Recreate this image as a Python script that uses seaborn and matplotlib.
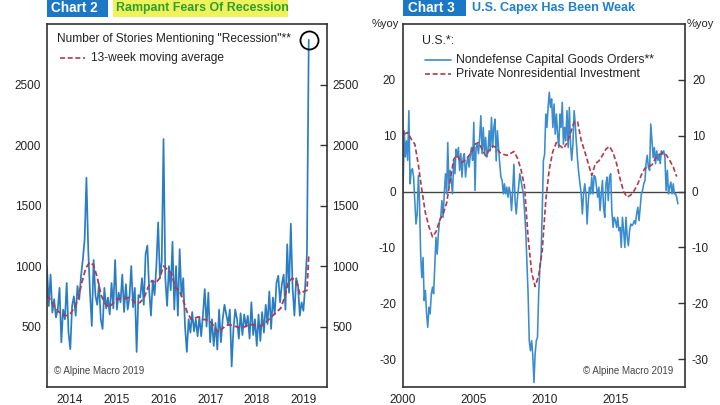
import matplotlib
matplotlib.use('Agg')
import matplotlib.pyplot as plt
import matplotlib.dates as mdates
from matplotlib.patches import Rectangle
import seaborn as sns
import numpy as np
import pandas as pd

sns.set_theme(style='white')
plt.rcParams['font.family'] = ['Liberation Sans', 'DejaVu Sans']
plt.rcParams['axes.unicode_minus'] = False

blue = '#2b7dc2'
blue2 = '#3a8cce'
red = '#b03a4c'
spinecol = '#333333'

# ---- Chart 2: weekly stories (sampled every two weeks) ----
stories = [
    # 2014
    1000, 670, 930, 615, 725, 575, 640, 820, 370, 640, 560, 860, 450, 313, 670, 750, 590, 835, 725, 920,
    1055, 1220, 1730, 1140, 780, 505,
    # 2015
    1050, 760, 680, 850, 560, 480, 820, 650, 740, 600, 860, 650, 1050, 640, 780, 700, 930, 620, 850, 640,
    740, 1000, 660, 820, 290, 760,
    # 2016
    740, 900, 680, 1100, 1170, 800, 590, 880, 760, 1000, 1360, 900, 1040, 2050, 900, 670, 1000, 800, 1200, 640,
    1000, 590, 1140, 750, 900, 500,
    # 2017
    290, 560, 450, 620, 460, 560, 420, 580, 420, 600, 810, 500, 780, 370, 560, 340, 530, 310, 640, 370,
    560, 680, 600, 520, 640, 170,
    # 2018
    480, 640, 560, 400, 610, 430, 600, 500, 590, 400, 700, 430, 560, 340, 600, 380, 620, 450, 680, 520,
    790, 480, 740, 600, 860, 920,
    # 2019
    700, 850, 930, 640, 1180, 780, 1350, 820, 590, 900, 840, 590, 700, 630, 830, 1110, 2870]
story_dates = pd.date_range('2014-01-03', periods=len(stories), freq='14D')

# 13-week moving average, read monthly, plus the last two readings
ma_monthly = [755, 720, 670, 625, 600, 590, 600, 650, 720, 860, 980, 1030,
              1010, 900, 760, 690, 660, 690, 725, 730, 730, 740, 720, 690,
              700, 740, 820, 880, 860, 900, 1000, 970, 940, 820, 800, 720,
              620, 560, 570, 580, 560, 555, 540, 500, 450, 480, 510, 515,
              505, 495, 490, 500, 515, 515, 510, 505, 525, 560, 590, 620,
              650, 740, 860, 900, 880, 770, 790]
ma_last = [800, 1090]
ma_dates = list(pd.date_range('2014-01-01', periods=len(ma_monthly), freq='MS')) + list(story_dates[-2:])
ma_vals = ma_monthly + ma_last

# ---- Chart 3: US capex, %yoy ----
orders = [
    0, 10.9, 6.2, 9.1, 5.6, 14.5, 1.4, 3.8, 4.1, 2.6, -1.5, -5.8,            # 2000
    -4, 2.9, -1.6, -11.2, -15.4, -11.8, -19.5, -17.7, -21.9, -24.3, -20.7, -21.9,
    -18.3, -17.1, -18.3, -13, -8.2, -11.2, -7.6, -5.2, -4.6, -1.6, -4.6, -0.4,
    3.2, -0.4, 8.8, 0.8, 3.8, 2.0, -0.4, 5.6, 3.2, 7.6, 6.2, 7.9,
    3.8, 6.8, 2.6, 5.9, 6.8, 2.6, 5.0, 6.2, 4.4, 6.5, 7.9, 5.6,
    12.4, 0.2, 7.9, 8.5, 6.8, 9.7, 13.6, 6.8, 11.5, 6.8, 9.7, 6.2,           # 2005
    7.3, 10.9, 7.3, 13.3, 7.9, 11.5, 13.0, 5.5, 10.9, 7.9, 4.9, 2.6,
    2.0, -0.4, 1.4, -0.4, 0.8, -1.0, 0.8, -0.4, -3.4, 0.2, 4.9, -1.6,
    -4, -1, 0.8, 3.2, 2.0, 0.8, -0.4, -3.4, -7, -12.4, -18.3, -26.7,
    -28.5, -26.7, -29.1, -34.2, -29.1, -26.7, -26.1, -18.3, -13.6, -11.8, -3.4, 5.6,
    6.7, 13.9, 11.5, 15.1, 17.8, 15.1, 16.6, 11.5, 15.7, 10.3, 13.9, 10.3,   # 2010
    7.9, 13.9, 11.5, 16.0, 8.5, 11.5, 9.1, 14.5, 7.9, 15.1, 8.5, 5.6,
    8.5, 14.5, 12.1, 8.5, 5.6, 3.2, 1.4, -0.4, -4, -0.4, 1.4, -0.4,
    -5.8, -1.6, 0.8, -0.4, 2.6, -0.4, 2.9, 2.6, 0.8, -1.0, 0.8, -3.4,
    -0.4, 2.0, -2.8, -4.6, 1.4, 2.6, -1.6, 2.6, 3.2, -3.4, -6.4, -4.6,
    -5.2, -6.4, -4.6, -7, -6.4, -10, -4.6, -7, -10, -4.6, -8.2, -9.7,        # 2015
    -7, -5.8, -6.1, -5.8, -5.2, -5.8, -4, -2.8, -5.2, -2.8, -0.4, 0.2,
    1.4, 2, 5, 6.5, 4.4, 3.8, 12.1, 9.1, 6.1, 7.9, 5, 7.3,
    5.6, 6.7, 5, 7.3, 6.7, 7.3, 6.1, 0.2, 3.8, -0.4, 0.8, 1.7,
    -0.4, 1.4, -0.4, -0.4, -1.0, -2.2]
order_dates = pd.date_range('2000-01-01', periods=len(orders), freq='MS')

invest = [10.3, 10.6, 9.4, 8.5, 4.8, 0.3, -3.8, -6.3, -8.1, -7.2, -5.2, -4.0,
          -2.0, 2.0, 5.8, 6.5, 5.2, 5.5, 6.2, 7.0, 8.5, 8.8, 7.6, 6.4,
          7.4, 8.2, 7.9, 7.0, 6.7, 6.5, 6.8, 7.2, 6.0, 4.0, 0.9, -8.2,
          -14.5, -17.0, -15.0, -10.5, -1.5, 4.0, 7.2, 8.8, 8.2, 7.7, 8.7, 10.5,
          12.5, 12.5, 9.2, 7.2, 5.0, 2.9, 5.0, 5.5, 6.5, 7.6, 8.1, 7.0,
          5.0, 2.3, 0.0, -1.0, -0.6, 0.2, 1.4, 3.0, 4.2, 4.4, 4.8, 6.0,
          6.6, 7.0, 6.6, 5.6, 4.4, 2.7]
invest_dates = pd.date_range('2000-02-01', periods=len(invest), freq='3MS')

fig = plt.figure(figsize=(7.2, 4.05), dpi=100)
ax1 = fig.add_axes([0.0649, 0.0444, 0.389, 0.896])
ax2 = fig.add_axes([0.5597, 0.0444, 0.3917, 0.896])

# ---------- left panel ----------
sns.lineplot(x=story_dates, y=stories, ax=ax1, color=blue, linewidth=1.25)
sns.lineplot(x=ma_dates, y=ma_vals, ax=ax1, color=red, linewidth=1.3, linestyle=(0, (3, 1.6)))
ax1.plot(story_dates[-1], stories[-1], marker='o', ms=13, mfc='none', mec='black', mew=1.3)

ax1.set_ylim(0, 3000)
ax1.set_yticks([500, 1000, 1500, 2000, 2500])
ax1.set_xlim(pd.Timestamp('2014-01-01'), pd.Timestamp('2019-12-28'))
ax1.xaxis.set_major_locator(mdates.YearLocator())
ax1.xaxis.set_major_formatter(plt.NullFormatter())
ax1.xaxis.set_minor_locator(mdates.MonthLocator(bymonth=7, bymonthday=1))
ax1.xaxis.set_minor_formatter(mdates.DateFormatter('%Y'))
ax1.tick_params(axis='x', which='minor', length=0, pad=5, labelsize=8.5, labelcolor='#222222')
ax1.tick_params(axis='both', which='major', direction='in', length=5, width=1,
                color=spinecol, labelsize=8.5, labelcolor='#222222')
ax1.tick_params(axis='y', right=True, labelright=True, pad=4)
ax1.set_xlabel('')
ax1.set_ylabel('')

ax1.text(0.037, 0.959, 'Number of Stories Mentioning "Recession"**', transform=ax1.transAxes,
         fontsize=8.6, va='center', ha='left', color='#222222')
ax1.plot([0.047, 0.137], [0.906, 0.906], transform=ax1.transAxes, color=red, lw=1.2,
         linestyle=(0, (3, 1.6)))
ax1.text(0.158, 0.906, '13-week moving average', transform=ax1.transAxes,
         fontsize=8.6, va='center', ha='left', color='#222222')
ax1.text(0.026, 0.044, '\u00a9 Alpine Macro 2019', transform=ax1.transAxes,
         fontsize=7, va='center', ha='left', color='#444444')

# ---------- right panel ----------
sns.lineplot(x=order_dates, y=orders, ax=ax2, color=blue2, linewidth=1.15)
sns.lineplot(x=invest_dates, y=invest, ax=ax2, color=red, linewidth=1.2, linestyle=(0, (3, 1.6)))
ax2.axhline(0, color='#444444', lw=1, zorder=1)

ax2.set_ylim(-35, 30)
ax2.set_yticks([-30, -20, -10, 0, 10, 20])
ax2.set_xlim(pd.Timestamp('2000-01-01'), pd.Timestamp('2019-12-01'))
ax2.xaxis.set_major_locator(mdates.YearLocator(5))
ax2.xaxis.set_major_formatter(mdates.DateFormatter('%Y'))
ax2.xaxis.set_minor_locator(mdates.YearLocator(1))
ax2.tick_params(axis='both', which='both', direction='in', length=5, width=1,
                color=spinecol, labelsize=8.5, labelcolor='#222222')
ax2.tick_params(axis='x', pad=5)
ax2.tick_params(axis='y', right=True, labelright=True, pad=5)
ax2.set_xlabel('')
ax2.set_ylabel('')

ax2.text(0.067, 0.953, 'U.S.*:', transform=ax2.transAxes, fontsize=8.8, va='center', color='#222222')
ax2.plot([0.078, 0.170], [0.901, 0.901], transform=ax2.transAxes, color=blue2, lw=1.2)
ax2.text(0.188, 0.901, 'Nondefense Capital Goods Orders**', transform=ax2.transAxes,
         fontsize=8.8, va='center', color='#222222')
ax2.plot([0.078, 0.170], [0.862, 0.862], transform=ax2.transAxes, color=red, lw=1.2,
         linestyle=(0, (3, 1.6)))
ax2.text(0.188, 0.862, 'Private Nonresidential Investment', transform=ax2.transAxes,
         fontsize=8.8, va='center', color='#222222')
ax2.text(0.957, 0.044, '\u00a9 Alpine Macro 2019', transform=ax2.transAxes,
         fontsize=7, va='center', ha='right', color='#444444')

for ax in (ax1, ax2):
    for s in ax.spines.values():
        s.set_color(spinecol)
        s.set_linewidth(1.2)

fig.text(399 / 720, 1 - 24 / 405, '%yoy', fontsize=8, ha='right', va='center', color='#222222')
fig.text(687 / 720, 1 - 24 / 405, '%yoy', fontsize=8, ha='left', va='center', color='#222222')

# ---------- headers ----------
def box(x0, x1, y1, color):
    fig.patches.append(Rectangle((x0 / 720, 1 - y1 / 405), (x1 - x0) / 720, y1 / 405 + 0.01,
                                 transform=fig.transFigure, facecolor=color, edgecolor='none'))

box(46.7, 108, 16.7, '#1c78c4')
box(113, 288, 16.7, '#f0f25c')
box(403, 466, 15.5, '#1c78c4')
fig.text(51 / 720, 1 - 8.5 / 405, 'Chart 2', color='white', weight='bold', fontsize=9.8, va='center')
fig.text(116 / 720, 1 - 8.5 / 405, 'Rampant Fears Of Recession', color='#2f9e32', weight='bold',
         fontsize=8.9, va='center')
fig.text(408 / 720, 1 - 8 / 405, 'Chart 3', color='white', weight='bold', fontsize=9.8, va='center')
fig.text(472 / 720, 1 - 8 / 405, 'U.S. Capex Has Been Weak', color='#1f80cc', weight='bold',
         fontsize=9.1, va='center')

fig.savefig('out.png', dpi=100)
